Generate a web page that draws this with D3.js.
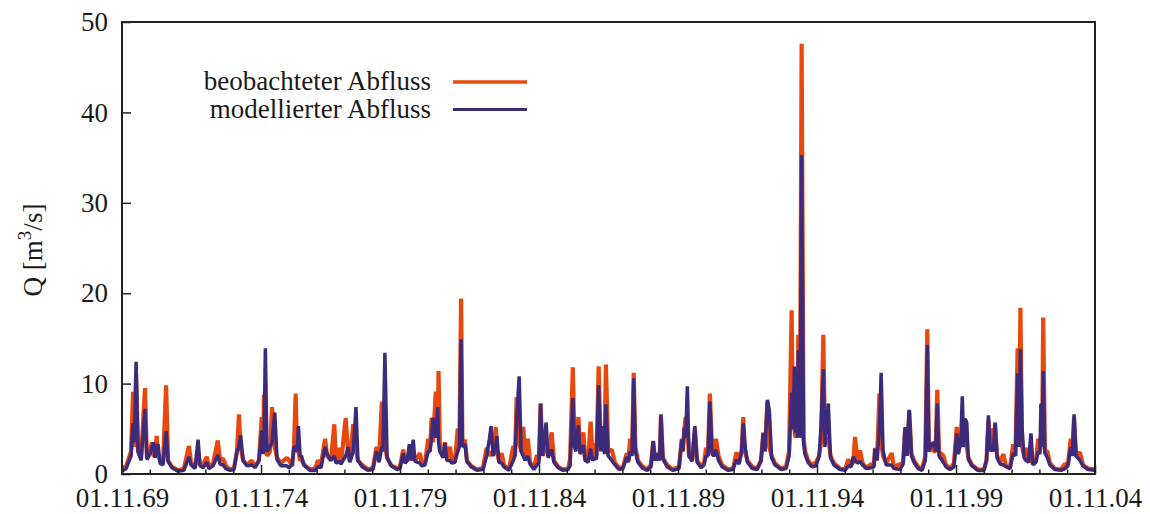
<!DOCTYPE html>
<html>
<head>
<meta charset="utf-8">
<script src="https://cdn.jsdelivr.net/npm/d3@7"></script>
<style>
  body { margin: 0; background: #fff; }
  svg { display: block; }
  text { font-family: "Liberation Serif", "Times New Roman", serif; fill: #1a1a1a; }
</style>
</head>
<body>
<svg id="chart" width="1150" height="514"></svg>
<script>
// Daily discharge, hydrological years 1969/70 - 2003/04 (time as decimal year)
const time = [
  1969.83, 1969.98, 1970.16, 1970.23, 1970.28, 1970.34, 1970.41, 1970.52, 1970.66, 1970.73,
  1970.84, 1970.91, 1970.97, 1971.02, 1971.08, 1971.13, 1971.20, 1971.31, 1971.42, 1971.49,
  1971.63, 1971.85, 1972.06, 1972.24, 1972.32, 1972.46, 1972.57, 1972.64, 1972.75, 1972.88,
  1972.96, 1973.11, 1973.28, 1973.36, 1973.47, 1973.57, 1973.72, 1973.86, 1973.97, 1974.04,
  1974.10, 1974.19, 1974.33, 1974.50, 1974.62, 1974.76, 1974.86, 1974.91, 1974.94, 1974.99,
  1975.05, 1975.16, 1975.23, 1975.33, 1975.41, 1975.55, 1975.76, 1975.84, 1975.95, 1976.02,
  1976.08, 1976.13, 1976.18, 1976.24, 1976.29, 1976.38, 1976.60, 1976.78, 1976.88, 1976.99,
  1977.14, 1977.21, 1977.35, 1977.47, 1977.53, 1977.64, 1977.71, 1977.88, 1977.97, 1978.03,
  1978.15, 1978.25, 1978.32, 1978.47, 1978.68, 1978.86, 1978.99, 1979.08, 1979.18, 1979.22,
  1979.29, 1979.37, 1979.51, 1979.73, 1979.83, 1979.95, 1980.01, 1980.09, 1980.17, 1980.23,
  1980.31, 1980.37, 1980.55, 1980.62, 1980.73, 1980.85, 1980.91, 1980.97, 1981.02, 1981.12,
  1981.19, 1981.22, 1981.27, 1981.38, 1981.45, 1981.52, 1981.63, 1981.70, 1981.81, 1981.91,
  1981.97, 1982.03, 1982.08, 1982.17, 1982.24, 1982.39, 1982.60, 1982.82, 1982.95, 1983.05,
  1983.11, 1983.18, 1983.28, 1983.32, 1983.39, 1983.49, 1983.57, 1983.75, 1983.91, 1983.97,
  1984.03, 1984.12, 1984.19, 1984.27, 1984.33, 1984.43, 1984.51, 1984.65, 1984.76, 1984.83,
  1984.89, 1984.96, 1985.09, 1985.16, 1985.29, 1985.37, 1985.52, 1985.70, 1985.88, 1985.95,
  1986.05, 1986.11, 1986.16, 1986.25, 1986.31, 1986.43, 1986.49, 1986.60, 1986.69, 1986.76,
  1986.83, 1986.90, 1986.98, 1987.05, 1987.12, 1987.19, 1987.24, 1987.32, 1987.45, 1987.57,
  1987.71, 1987.85, 1987.99, 1988.05, 1988.11, 1988.18, 1988.24, 1988.30, 1988.39, 1988.54,
  1988.72, 1988.86, 1988.94, 1989.01, 1989.10, 1989.17, 1989.22, 1989.29, 1989.44, 1989.65,
  1989.87, 1989.97, 1990.01, 1990.06, 1990.11, 1990.17, 1990.23, 1990.34, 1990.44, 1990.52,
  1990.66, 1990.77, 1990.84, 1990.91, 1990.98, 1991.06, 1991.13, 1991.20, 1991.29, 1991.42,
  1991.63, 1991.81, 1991.94, 1992.03, 1992.12, 1992.18, 1992.24, 1992.33, 1992.50, 1992.68,
  1992.82, 1992.90, 1992.96, 1993.05, 1993.12, 1993.20, 1993.32, 1993.54, 1993.72, 1993.83,
  1993.92, 1993.97, 1994.02, 1994.06, 1994.10, 1994.13, 1994.16, 1994.22, 1994.28, 1994.35,
  1994.40, 1994.51, 1994.65, 1994.80, 1994.91, 1994.98, 1995.06, 1995.12, 1995.24, 1995.32,
  1995.44, 1995.66, 1995.84, 1995.96, 1996.06, 1996.14, 1996.20, 1996.29, 1996.38, 1996.47,
  1996.60, 1996.80, 1996.88, 1996.92, 1996.99, 1997.08, 1997.14, 1997.21, 1997.32, 1997.52,
  1997.60, 1997.82, 1997.93, 1998.00, 1998.07, 1998.15, 1998.23, 1998.32, 1998.47, 1998.61,
  1998.73, 1998.80, 1998.86, 1998.96, 1999.04, 1999.10, 1999.16, 1999.22, 1999.38, 1999.47,
  1999.62, 1999.76, 1999.86, 1999.92, 2000.00, 2000.06, 2000.11, 2000.16, 2000.22, 2000.28,
  2000.41, 2000.62, 2000.84, 2000.93, 2001.00, 2001.06, 2001.12, 2001.18, 2001.24, 2001.31,
  2001.42, 2001.54, 2001.63, 2001.78, 2001.89, 2001.97, 2002.05, 2002.10, 2002.15, 2002.21,
  2002.28, 2002.35, 2002.44, 2002.53, 2002.60, 2002.71, 2002.79, 2002.85, 2002.89, 2002.93,
  2002.97, 2003.03, 2003.12, 2003.21, 2003.39, 2003.61, 2003.75, 2003.86, 2003.96, 2004.02,
  2004.08, 2004.15, 2004.29, 2004.40, 2004.58, 2004.83
];

// Observed discharge Q [m3/s]
const observed = [
  0.6, 0.8, 2.5, 9.1, 3.0, 11.0, 2.5, 1.8, 9.5, 1.8,
  2.5, 3.5, 2.0, 2.0, 4.2, 2.2, 1.5, 1.3, 9.8, 1.5,
  0.8, 0.4, 0.6, 3.1, 1.2, 0.8, 2.5, 1.0, 1.0, 1.9,
  0.8, 1.2, 3.7, 1.5, 1.7, 0.9, 0.5, 0.6, 2.5, 6.6,
  3.0, 1.5, 1.0, 1.5, 0.8, 1.5, 6.3, 2.5, 8.8, 3.0,
  2.0, 2.5, 7.4, 3.0, 1.8, 1.2, 1.8, 1.5, 0.9, 3.0,
  8.9, 2.5, 2.5, 1.5, 1.6, 1.0, 0.5, 0.6, 1.5, 1.0,
  3.9, 2.0, 1.5, 5.5, 1.5, 2.9, 1.2, 6.2, 2.0, 1.4,
  5.5, 2.5, 1.5, 1.0, 0.5, 0.7, 3.0, 1.5, 8.0, 3.0,
  3.0, 1.8, 1.0, 0.6, 0.8, 2.7, 1.3, 1.5, 2.0, 1.5,
  2.5, 1.5, 2.3, 1.0, 1.2, 3.9, 2.5, 6.2, 3.5, 9.1,
  4.0, 11.4, 2.5, 2.0, 3.5, 1.8, 3.0, 1.4, 1.5, 5.05,
  3.0, 19.4, 3.0, 3.8, 1.5, 0.9, 0.5, 0.7, 2.9, 2.0,
  2.5, 2.0, 5.2, 2.5, 1.5, 2.3, 1.0, 0.5, 3.1, 2.0,
  8.5, 3.5, 2.5, 5.2, 2.0, 3.9, 1.3, 0.7, 2.1, 1.5,
  7.8, 2.0, 3.5, 2.0, 4.6, 1.5, 0.8, 0.5, 0.6, 1.6,
  11.8, 3.0, 3.0, 6.3, 2.5, 4.6, 1.8, 1.5, 5.8, 1.8,
  3.4, 2.0, 11.9, 3.0, 3.0, 2.5, 12.1, 2.5, 2.7, 1.2,
  0.7, 0.7, 2.3, 1.5, 3.9, 2.5, 11.2, 3.0, 1.5, 0.9,
  0.5, 1.0, 3.6, 1.5, 2.3, 1.5, 6.4, 1.8, 1.0, 0.5,
  0.8, 3.9, 2.5, 5.0, 6.3, 5.0, 2.0, 1.5, 5.0, 1.5,
  0.9, 1.2, 2.9, 2.0, 8.9, 2.5, 2.0, 3.9, 2.0, 1.0,
  0.5, 0.6, 2.4, 1.3, 2.5, 6.3, 2.5, 1.5, 0.8, 0.6,
  1.5, 4.6, 2.5, 8.0, 3.0, 2.0, 1.2, 0.6, 0.8, 2.5,
  18.1, 5.0, 5.0, 4.0, 5.0, 4.0, 15.4, 4.0, 47.6, 4.0,
  2.6, 1.5, 1.0, 1.3, 2.0, 3.5, 15.4, 3.5, 4.0, 2.0,
  1.2, 0.6, 0.5, 1.6, 1.0, 1.3, 4.1, 1.5, 2.6, 1.2,
  0.7, 1.1, 0.9, 2.9, 1.5, 8.9, 3.5, 2.0, 1.2, 2.3,
  0.8, 1.1, 1.2, 4.8, 2.0, 7.0, 2.3, 1.5, 0.8, 0.5,
  2.0, 16.0, 2.5, 3.0, 2.5, 2.5, 9.3, 2.5, 2.0, 1.0,
  0.6, 1.2, 5.2, 2.5, 3.5, 4.0, 3.0, 6.0, 3.0, 1.8,
  1.0, 0.5, 0.5, 1.5, 6.0, 3.0, 5.05, 2.5, 5.5, 2.0,
  1.3, 2.2, 0.9, 0.8, 3.3, 2.0, 13.9, 3.0, 18.4, 3.0,
  2.0, 2.9, 1.5, 1.5, 1.2, 1.5, 3.9, 2.5, 4.0, 3.0,
  17.3, 2.6, 2.5, 1.2, 0.6, 0.5, 1.1, 1.0, 3.9, 2.0,
  6.3, 2.0, 2.4, 1.0, 0.6, 0.5
];

// Modelled discharge Q [m3/s]
const modelled = [
  0.3, 0.6, 2.0, 5.6, 3.5, 12.4, 2.5, 1.5, 7.2, 1.6,
  2.2, 3.0, 3.5, 1.8, 2.5, 3.3, 1.2, 1.0, 4.75, 1.4,
  0.7, 0.3, 0.4, 1.9, 1.0, 0.6, 3.8, 0.9, 0.7, 1.3,
  0.6, 0.9, 2.1, 1.1, 1.0, 0.6, 0.4, 0.5, 2.5, 3.0,
  4.3, 1.5, 0.9, 1.0, 0.7, 1.5, 4.8, 2.2, 3.0, 13.9,
  2.5, 3.0, 3.5, 6.8, 1.6, 0.9, 0.9, 0.7, 1.0, 3.0,
  3.0, 2.5, 5.3, 2.0, 2.0, 1.0, 0.4, 0.4, 0.8, 0.7,
  3.0, 2.2, 1.5, 2.0, 1.2, 1.4, 1.1, 2.0, 3.0, 1.3,
  2.5, 7.4, 1.5, 0.8, 0.4, 0.5, 2.5, 1.3, 3.0, 2.5,
  13.4, 1.8, 0.9, 0.5, 0.6, 2.3, 1.2, 1.5, 3.3, 1.5,
  3.8, 1.4, 1.2, 0.9, 1.0, 2.5, 2.5, 4.0, 6.2, 4.0,
  7.4, 3.5, 2.5, 1.8, 3.4, 1.5, 1.5, 1.2, 1.3, 2.5,
  3.0, 14.9, 3.0, 3.3, 1.4, 0.8, 0.4, 0.5, 2.0, 3.9,
  5.3, 2.0, 3.0, 4.2, 1.3, 1.2, 0.8, 0.4, 1.5, 2.0,
  6.0, 10.8, 2.5, 2.0, 1.5, 2.0, 1.1, 0.5, 1.0, 1.2,
  7.8, 2.0, 5.7, 1.8, 2.7, 1.3, 0.7, 0.4, 0.5, 0.9,
  8.4, 3.0, 2.5, 5.4, 2.2, 3.2, 1.5, 1.3, 2.8, 1.5,
  1.8, 1.6, 9.8, 2.5, 5.3, 2.2, 7.7, 2.0, 1.5, 1.0,
  0.5, 0.6, 1.9, 1.3, 2.5, 2.0, 10.6, 2.5, 1.3, 0.7,
  0.4, 0.8, 3.65, 1.5, 2.3, 1.5, 6.6, 1.7, 0.8, 0.4,
  0.6, 3.8, 2.5, 5.1, 4.0, 9.7, 2.0, 1.4, 5.3, 1.3,
  0.7, 1.0, 2.0, 2.0, 8.0, 2.2, 2.0, 2.7, 1.5, 0.8,
  0.4, 0.5, 1.6, 1.1, 2.5, 5.6, 3.2, 1.3, 0.6, 0.5,
  1.5, 4.5, 2.5, 8.2, 7.0, 1.8, 1.0, 0.5, 0.6, 2.0,
  9.0, 5.0, 11.9, 4.5, 9.1, 4.0, 13.7, 4.0, 35.3, 3.5,
  2.2, 1.3, 0.8, 0.9, 2.0, 5.4, 11.6, 3.0, 7.8, 1.8,
  1.0, 0.5, 0.4, 0.9, 0.8, 1.9, 1.5, 1.2, 1.4, 1.0,
  0.6, 0.7, 0.8, 2.8, 1.5, 5.0, 11.2, 2.6, 1.0, 1.0,
  0.6, 0.5, 1.1, 5.2, 2.0, 7.1, 2.0, 1.3, 0.6, 0.4,
  1.5, 14.3, 2.5, 3.3, 3.5, 2.5, 7.8, 2.0, 1.3, 0.8,
  0.5, 0.8, 4.5, 2.2, 3.5, 8.6, 3.0, 6.1, 5.7, 1.6,
  0.9, 0.4, 0.4, 1.5, 6.5, 2.5, 3.0, 2.5, 5.7, 1.8,
  1.1, 1.0, 0.8, 0.6, 2.3, 2.0, 11.1, 3.0, 13.8, 5.1,
  1.8, 1.5, 1.3, 4.5, 1.0, 1.3, 2.5, 2.2, 7.8, 3.0,
  11.4, 2.3, 1.8, 1.0, 0.5, 0.4, 0.6, 0.9, 3.0, 2.0,
  6.6, 2.0, 1.5, 0.9, 0.5, 0.4
];

// Axis ticks
const xTickYears  = [1969, 1974, 1979, 1984, 1989, 1994, 1999, 2004];
const xTickLabels = ["01.11.69", "01.11.74", "01.11.79", "01.11.84", "01.11.89", "01.11.94", "01.11.99", "01.11.04"];
const yTicks = [0, 10, 20, 30, 40, 50];

// Series names and colours
const seriesNames  = ["beobachteter Abfluss", "modellierter Abfluss"];
const seriesColors = ["#e8480e", "#3d2a7b"];

const svg = d3.select("#chart");
const plot = { left: 122, top: 22, right: 1095, bottom: 474 };
const NOV1 = 10 / 12; // 1 November as fraction of the calendar year
const serif = '"Liberation Serif", "Times New Roman", serif';

const x = d3.scaleLinear()
  .domain([xTickYears[0] + NOV1, xTickYears[xTickYears.length - 1] + NOV1])
  .range([plot.left, plot.right]);
const y = d3.scaleLinear().domain([0, 50]).range([plot.bottom, plot.top]);

const fontSize = 27;

// clip region for the curves
svg.append("defs").append("clipPath").attr("id", "plotclip")
  .append("rect")
  .attr("x", plot.left).attr("y", plot.top)
  .attr("width", plot.right - plot.left).attr("height", plot.bottom - plot.top);

// curves: observed underneath, modelled on top
const rowsObs = time.map((t, i) => ({ t, v: observed[i] }));
const rowsMod = time.map((t, i) => ({ t, v: modelled[i] }));
const line = d3.line().x(d => x(d.t)).y(d => y(d.v));

const curves = svg.append("g").attr("clip-path", "url(#plotclip)");
curves.append("path").datum(rowsObs)
  .attr("d", line).attr("fill", "none")
  .attr("stroke", seriesColors[0]).attr("stroke-width", 4.2)
  .attr("stroke-linejoin", "bevel");
curves.append("path").datum(rowsMod)
  .attr("d", line).attr("fill", "none")
  .attr("stroke", seriesColors[1]).attr("stroke-width", 3.5)
  .attr("stroke-linejoin", "bevel");

// y axis (inward ticks)
const yAxis = svg.append("g")
  .attr("transform", `translate(${plot.left},0)`)
  .call(d3.axisLeft(y).tickValues(yTicks).tickSize(-9).tickPadding(14));
yAxis.select(".domain").remove();
yAxis.selectAll("line").attr("stroke", "#222").attr("stroke-width", 1.5);
yAxis.selectAll("text").style("font-size", fontSize + "px")
  .style("font-family", serif).attr("fill", "#1a1a1a");

// yearly minor ticks on the time axis
const minorYears = d3.range(xTickYears[0] + 1, xTickYears[xTickYears.length - 1])
  .filter(yr => !xTickYears.includes(yr));
const xMinor = svg.append("g")
  .attr("transform", `translate(0,${plot.bottom})`)
  .call(d3.axisBottom(x).tickValues(minorYears.map(yr => yr + NOV1))
    .tickFormat("").tickSize(-4.5));
xMinor.select(".domain").remove();
xMinor.selectAll("line").attr("stroke", "#222").attr("stroke-width", 1.5);

// x axis (inward ticks, date labels)
const xAxis = svg.append("g")
  .attr("transform", `translate(0,${plot.bottom})`)
  .call(d3.axisBottom(x)
    .tickValues(xTickYears.map(yr => yr + NOV1))
    .tickFormat((d, i) => xTickLabels[i])
    .tickSize(-9).tickPadding(14));
xAxis.select(".domain").remove();
xAxis.selectAll("line").attr("stroke", "#222").attr("stroke-width", 1.5);
xAxis.selectAll("text").style("font-size", fontSize + "px")
  .style("font-family", serif).attr("fill", "#1a1a1a");

// frame
svg.append("rect")
  .attr("x", plot.left).attr("y", plot.top)
  .attr("width", plot.right - plot.left).attr("height", plot.bottom - plot.top)
  .attr("fill", "none").attr("stroke", "#222").attr("stroke-width", 2);

// y axis title with superscript
const yTitle = svg.append("text")
  .attr("transform", "translate(42,250) rotate(-90)")
  .attr("text-anchor", "middle")
  .style("font-size", fontSize + "px")
  .style("font-family", serif);
yTitle.append("tspan").text("Q [m");
yTitle.append("tspan").text("3").style("font-size", "19px").attr("dy", -11);
yTitle.append("tspan").text("/s]").attr("dy", 11);

// legend
const legend = svg.append("g");
seriesNames.forEach((name, i) => {
  const ly = 82 + i * 27.5;
  legend.append("text")
    .attr("x", 431).attr("y", ly + 8)
    .attr("text-anchor", "end")
    .style("font-size", fontSize + "px")
    .style("font-family", serif)
    .text(name);
  legend.append("line")
    .attr("x1", 453).attr("x2", 527).attr("y1", ly).attr("y2", ly)
    .attr("stroke", seriesColors[i]).attr("stroke-width", i === 0 ? 3.4 : 3);
});
</script>
</body>
</html>
